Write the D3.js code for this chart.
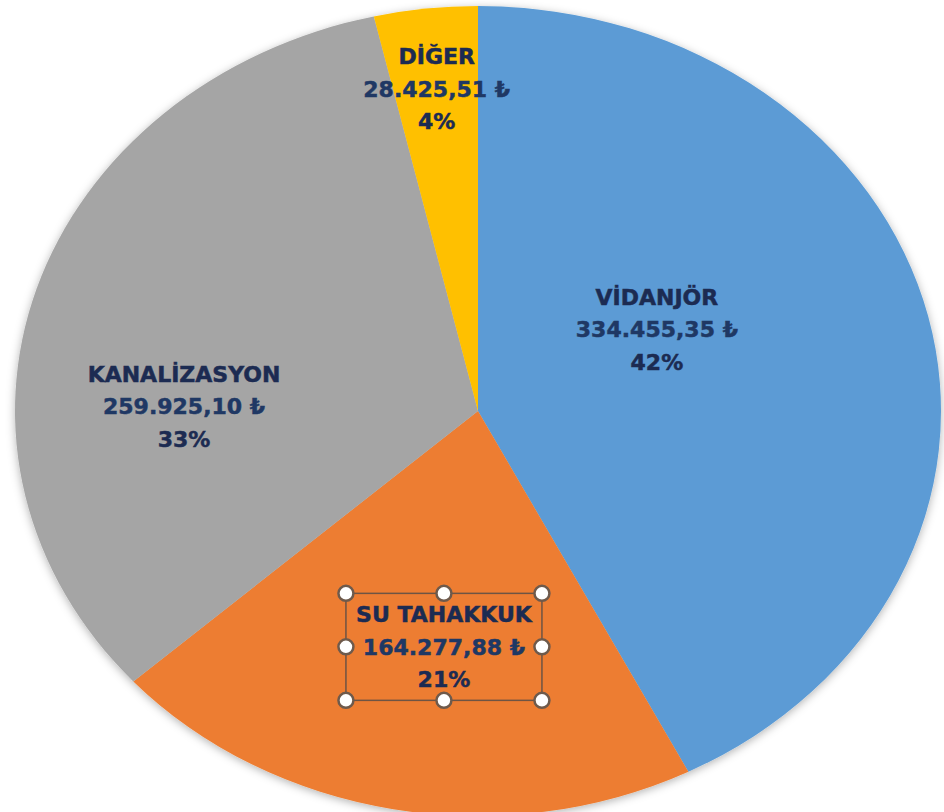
<!DOCTYPE html>
<html>
<head>
<meta charset="utf-8">
<script src="https://cdn.jsdelivr.net/npm/d3@7"></script>
<style>
  html, body { margin: 0; padding: 0; background: #ffffff; }
  svg { display: block; }
</style>
</head>
<body>
<script>
// ---- data ----
const categories = ["VİDANJÖR", "SU TAHAKKUK", "KANALİZASYON", "DİĞER"];
const values = [334455.35, 164277.88, 259925.10, 28425.51];
const valueLabels = ["334.455,35 ₺", "164.277,88 ₺", "259.925,10 ₺", "28.425,51 ₺"];
const percentLabels = ["42%", "21%", "33%", "4%"];
const colors = ["#5B9BD5", "#ED7D31", "#A5A5A5", "#FFC000"];

// ---- layout ----
const W = 944, H = 812;
const cx = 478, cy = 411, rx = 463, ry = 405;
// label anchor in normalised ellipse coords (angle deg clockwise from top, radius fraction)
const labelPlacement = [
  { angle: 62.4, r: 0.436 },
  { angle: 187.2, r: 0.587 },
  { angle: 271.0, r: 0.635 },
  { angle: 353.6, r: 0.80 }
];
const lineGap = 32.5;
const selectedIndex = 1; // label shown with selection handles

const svg = d3.select("body").append("svg")
  .attr("width", W).attr("height", H)
  .attr("viewBox", `0 0 ${W} ${H}`);

svg.append("rect").attr("width", W).attr("height", H).attr("fill", "#ffffff");

const defs = svg.append("defs");
const f = defs.append("filter").attr("id", "shadow")
  .attr("x", "-10%").attr("y", "-10%").attr("width", "120%").attr("height", "120%");
f.append("feDropShadow").attr("dx", 0).attr("dy", 2).attr("stdDeviation", 4)
  .attr("flood-color", "#000").attr("flood-opacity", 0.3);

const pie = d3.pie().sort(null).value(d => d)
  .startAngle(0).endAngle(2 * Math.PI);
const arcs = pie(values);

const arc = d3.arc().innerRadius(0).outerRadius(ry);

const pg = svg.append("g")
  .attr("transform", `translate(${cx},${cy}) scale(${rx / ry},1)`);

pg.append("g").attr("filter", "url(#shadow)")
  .selectAll("path").data(arcs).join("path")
  .attr("d", arc)
  .attr("fill", (d, i) => colors[i]);

// ---- labels ----
const lg = svg.append("g")
  .attr("font-family", "'DejaVu Sans', sans-serif")
  .attr("font-weight", "bold")
  .attr("font-size", 22)
  .attr("text-anchor", "middle");

categories.forEach((c, i) => {
  const p = labelPlacement[i];
  const a = p.angle * Math.PI / 180;
  const x = cx + Math.sin(a) * p.r * rx;
  const y = cy - Math.cos(a) * p.r * ry;
  const lines = [
    { t: c, col: "#1C2B52" },
    { t: valueLabels[i], col: "#1F3864" },
    { t: percentLabels[i], col: "#1C2B52" }
  ];
  const g = lg.append("g");

  if (i === selectedIndex) {
    const bw = 196, bh = 107;
    const bx = x - bw / 2, by = y - bh / 2;
    g.append("rect")
      .attr("x", bx).attr("y", by).attr("width", bw).attr("height", bh)
      .attr("fill", "none").attr("stroke", "#6e5444").attr("stroke-width", 1.5);
    const hx = [bx, bx + bw / 2, bx + bw];
    const hy = [by, by + bh / 2, by + bh];
    const handles = [];
    hx.forEach((xx, ix) => hy.forEach((yy, iy) => {
      if (!(ix === 1 && iy === 1)) handles.push([xx, yy]);
    }));
    g.selectAll("circle.h").data(handles).join("circle")
      .attr("class", "h")
      .attr("cx", d => d[0]).attr("cy", d => d[1]).attr("r", 7.5)
      .attr("fill", "#ffffff").attr("stroke", "#6e5a4c").attr("stroke-width", 2.5);
  }

  lines.forEach((ln, k) => {
    g.append("text")
      .attr("x", x)
      .attr("y", y + (k - 1) * lineGap)
      .attr("dy", "0.36em")
      .attr("fill", ln.col)
      .attr("stroke", ln.col)
      .attr("stroke-width", 0.5)
      .text(ln.t);
  });
});
</script>
</body>
</html>
